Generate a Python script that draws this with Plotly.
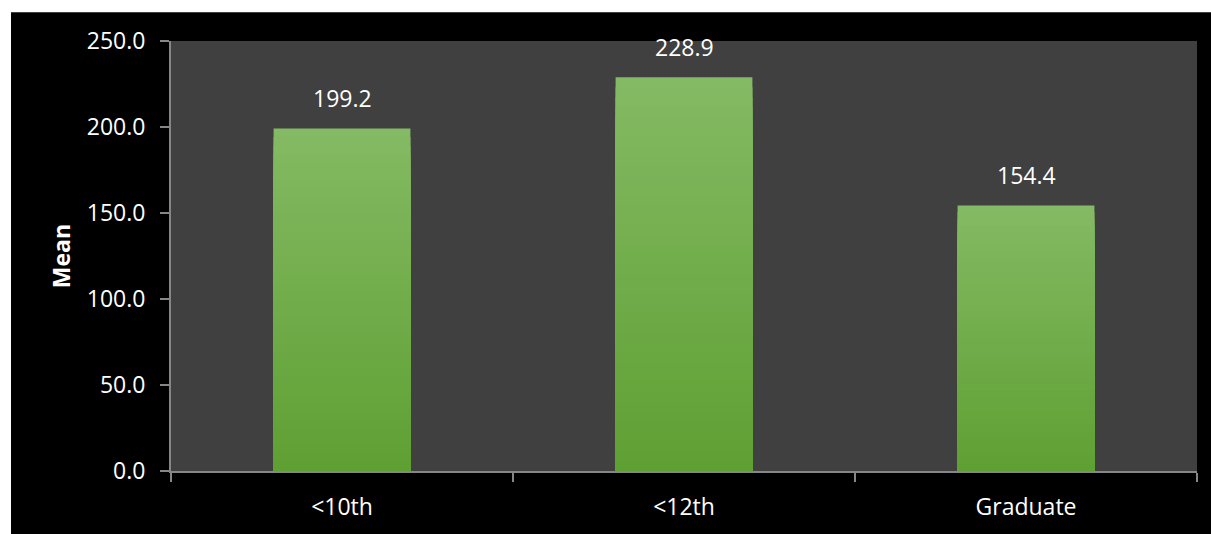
import plotly.graph_objects as go

categories = ["<10th", "<12th", "Graduate"]
means = [199.2, 228.9, 154.4]
y_ticks = [0, 50, 100, 150, 200, 250]
y_tick_labels = ["0.0", "50.0", "100.0", "150.0", "200.0", "250.0"]

W, H = 1211, 534
L, R, T, B = 171, 14, 41, 60
pw, ph = W - L - R, H - T - B

top_rgb = (0x84, 0xBA, 0x63)
bot_rgb = (0x5E, 0x9F, 0x32)
N = 40

def lerp(a, b, t):
    return tuple(round(a[i] + (b[i] - a[i]) * t) for i in range(3))

fig = go.Figure()
for k in range(N):
    f = 1 - k / N
    c = lerp(bot_rgb, top_rgb, f)
    fig.add_trace(go.Bar(
        x=categories,
        y=[v * f for v in means],
        marker=dict(color="rgb(%d,%d,%d)" % c, line=dict(width=0)),
        hoverinfo="skip",
        showlegend=False,
    ))

font = "Open Sans, Noto Sans, DejaVu Sans, sans-serif"
annotations = [
    dict(x=c, y=v, xref="x", yref="y", text="%.1f" % v, showarrow=False,
         yanchor="bottom", yshift=12, font=dict(family=font, size=23, color="white"))
    for c, v in zip(categories, means)
]

def px_x(p):
    return (p - L) / pw

def px_y(p):
    return (H - B - p) / ph

# white outer strips (top and left) around the black chart area
fig.add_shape(type="rect", xref="paper", yref="paper",
              x0=px_x(-5), x1=px_x(W + 5), y0=px_y(12), y1=px_y(-5),
              fillcolor="white", line=dict(width=0), layer="below")
fig.add_shape(type="rect", xref="paper", yref="paper",
              x0=px_x(-5), x1=px_x(11), y0=px_y(H + 5), y1=px_y(-5),
              fillcolor="white", line=dict(width=0), layer="below")

fig.update_layout(
    width=W, height=H,
    margin=dict(l=L, r=R, t=T, b=B, pad=0),
    paper_bgcolor="black",
    plot_bgcolor="#404040",
    barmode="overlay",
    bargap=0.6,
    annotations=annotations,
    font=dict(family=font, color="white", size=23),
    xaxis=dict(
        type="category",
        showgrid=False, zeroline=False,
        showline=True, linecolor="#868686", linewidth=2,
        ticks="outside", tickson="boundaries", ticklen=9, tickcolor="#868686", tickwidth=2,
        tickfont=dict(family=font, size=23, color="white"),
        ticklabelstandoff=14,
        fixedrange=True,
    ),
    yaxis=dict(
        range=[0, 250],
        tickvals=y_ticks, ticktext=y_tick_labels,
        showgrid=False, zeroline=False,
        showline=True, linecolor="#868686", linewidth=2,
        ticks="outside", ticklen=9, tickcolor="#868686", tickwidth=2,
        tickfont=dict(family=font, size=23, color="white"),
        ticklabelstandoff=10,
        title=dict(text="<b>Mean</b>", font=dict(family=font, size=23, color="white"), standoff=10),
        fixedrange=True,
    ),
)

fig.write_html("out.html")
